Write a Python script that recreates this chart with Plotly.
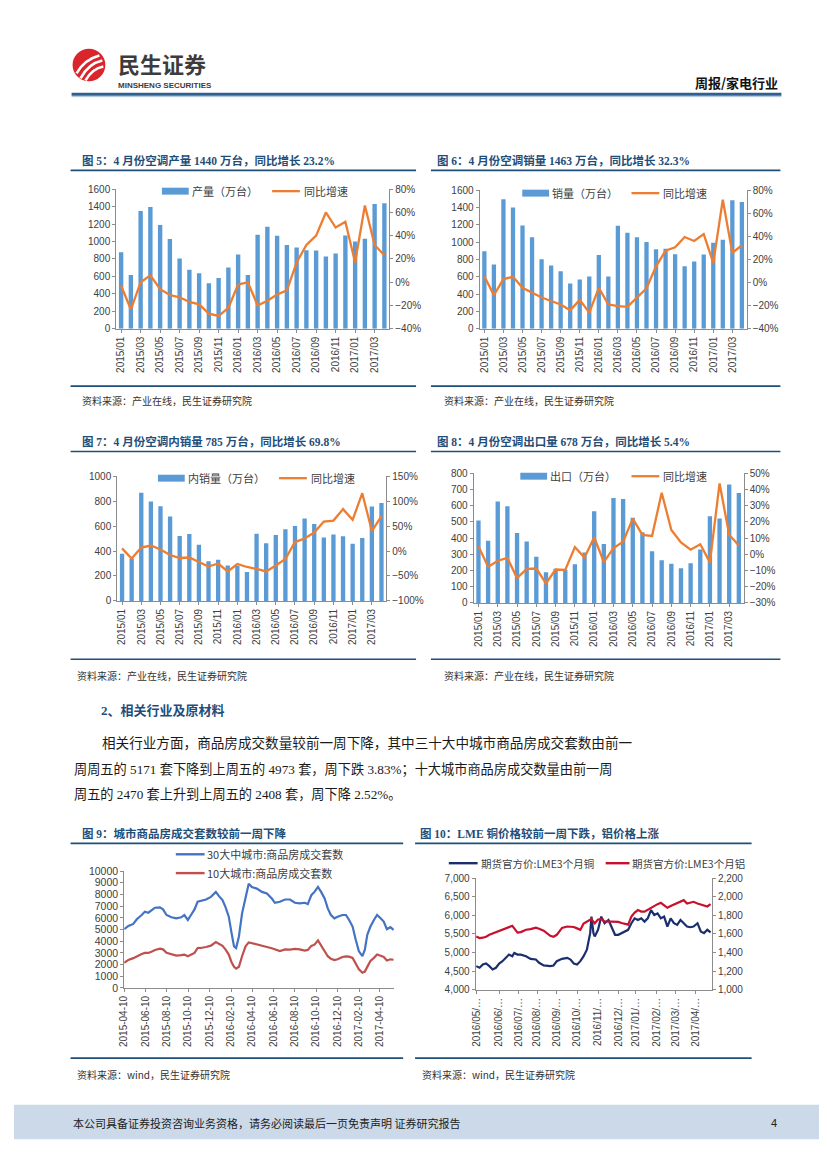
import plotly.graph_objects as go

# ---------------- data ----------------
MONTHS = ["2015/01", "2015/02", "2015/03", "2015/04", "2015/05", "2015/06", "2015/07",
          "2015/08", "2015/09", "2015/10", "2015/11", "2015/12", "2016/01", "2016/02",
          "2016/03", "2016/04", "2016/05", "2016/06", "2016/07", "2016/08", "2016/09",
          "2016/10", "2016/11", "2016/12", "2017/01", "2017/02", "2017/03", "2017/04"]
MONTH_TICKS = ["2015/01", "2015/03", "2015/05", "2015/07", "2015/09", "2015/11", "2016/01",
               "2016/03", "2016/05", "2016/07", "2016/09", "2016/11", "2017/01", "2017/03"]

PROD = [877, 616, 1350, 1396, 1188, 1029, 806, 677, 635, 522, 582, 703, 851, 616,
        1078, 1169, 1067, 961, 930, 900, 896, 828, 862, 1070, 999, 1033, 1430, 1440]
PROD_YOY = [-3, -23.5, 0, 6, -6, -11, -13, -17, -19, -27, -29, -22, -2, 0,
            -20, -16, -10.5, -7, 17, 32, 40, 60, 47, 52, 17, 66, 32, 23.2]

SALES = [894, 741, 1496, 1400, 1193, 1055, 802, 729, 664, 522, 568, 602, 852, 602,
         1189, 1109, 1055, 1001, 917, 925, 859, 721, 775, 856, 994, 1028, 1485, 1463]
SALES_YOY = [5.5, -11, 3, 5, -4.6, -9, -13, -16, -19, -24, -15, -26, -4.6, -19,
             -20.4, -21, -13, -5, 14, 27.6, 30.5, 39.4, 36, 42, 17, 71.7, 25.6, 32.3]

DOMESTIC = [379, 340, 868, 797, 760, 676, 521, 537, 450, 318, 331, 284, 282, 232,
            539, 463, 529, 574, 600, 660, 616, 508, 532, 518, 458, 505, 758, 785]
DOMESTIC_YOY = [5.3, -15, 7, 11, 3, -8, -14, -13, -22, -31, -25, -41, -26, -32,
                -36, -41, -29, -16, 18, 25, 37, 59, 61, 84, 62.5, 116, 40, 69.8]

EXPORT = [509, 383, 625, 596, 432, 379, 285, 189, 210, 204, 238, 311, 566, 364,
          647, 641, 525, 436, 318, 263, 242, 214, 244, 330, 535, 521, 731, 678]
EXPORT_YOY = [5, -7.8, -4, -2.3, -14.7, -9, -8.8, -18, -9.4, -9.6, 4.4, -2, 10.5, -4.8,
              3.8, 7.7, 22, 12, 11.3, 38, 15, 7.3, 2.8, 6.2, -5, 43.7, 12, 5.4]

HOUSE_DATES = ["2015-04-10", "2015-04-22", "2015-05-06", "2015-05-16", "2015-05-30", "2015-06-08",
               "2015-06-18", "2015-06-27", "2015-07-07", "2015-07-21", "2015-07-30", "2015-08-09",
               "2015-08-23", "2015-09-06", "2015-09-20", "2015-09-29", "2015-10-09", "2015-10-18",
               "2015-10-28", "2015-11-06", "2015-11-15", "2015-11-30", "2015-12-14", "2015-12-28",
               "2016-01-06", "2016-01-16", "2016-01-25", "2016-02-03", "2016-02-11", "2016-02-18",
               "2016-02-24", "2016-03-03", "2016-03-12", "2016-03-22", "2016-03-31", "2016-04-09",
               "2016-04-23", "2016-05-08", "2016-05-22", "2016-06-05", "2016-06-14", "2016-06-28",
               "2016-07-13", "2016-07-27", "2016-08-10", "2016-08-24", "2016-09-07", "2016-09-16",
               "2016-09-26", "2016-10-05", "2016-10-15", "2016-10-24", "2016-11-03", "2016-11-12",
               "2016-11-21", "2016-12-01", "2016-12-10", "2016-12-24", "2017-01-03", "2017-01-12",
               "2017-01-22", "2017-01-31", "2017-02-09", "2017-02-19", "2017-02-26", "2017-03-05",
               "2017-03-14", "2017-03-24", "2017-04-02", "2017-04-12", "2017-04-21", "2017-04-30",
               "2017-05-10", "2017-05-19"]
CITY30 = [5028, 5310, 5480, 5876, 6243, 6525, 6440, 6610, 6864, 6893,
          6723, 6243, 6045, 5960, 6045, 6243, 5819, 6243, 6723, 7373,
          7429, 7570, 7796, 8220, 7853, 7514, 6893, 6100, 4689, 3559,
          3418, 4407, 6384, 7796, 8926, 8644, 8503, 8220, 8079, 7655,
          7288, 7373, 7570, 7570, 7288, 7232, 7288, 7175, 7938, 8220,
          8644, 8220, 7655, 6808, 6243, 5960, 6100, 6243, 6243, 5819,
          5254, 4124, 3136, 2712, 3277, 4548, 5254, 5819, 6243, 5960,
          5678, 5028, 5198, 4972]
CITY10 = [2147, 2400, 2550, 2712, 2900, 2994, 2994, 3100, 3250, 3361,
          3300, 3000, 2850, 2768, 2800, 2853, 2712, 2850, 2994, 3418,
          3420, 3503, 3616, 3927, 3750, 3600, 3277, 2853, 2200, 1800,
          1650, 1808, 2712, 3559, 3898, 3820, 3700, 3616, 3500, 3400,
          3277, 3150, 3300, 3277, 3333, 3300, 3192, 3250, 3600, 3701,
          4068, 3616, 3220, 2712, 2500, 2380, 2450, 2650, 2700, 2680,
          2571, 2100, 1600, 1299, 1400, 1800, 2300, 2571, 2853, 2750,
          2650, 2350, 2450, 2408]
HOUSE_TICKS = ["2015-04-10", "2015-06-10", "2015-08-10", "2015-10-10", "2015-12-10", "2016-02-10",
               "2016-04-10", "2016-06-10", "2016-08-10", "2016-10-10", "2016-12-10", "2017-02-10",
               "2017-04-10"]

LME_DATES = ["2016-05-03", "2016-05-08", "2016-05-13", "2016-05-18", "2016-05-23", "2016-05-28",
             "2016-06-02", "2016-06-07", "2016-06-12", "2016-06-17", "2016-06-22", "2016-06-27",
             "2016-06-30", "2016-07-05", "2016-07-10", "2016-07-18", "2016-07-25", "2016-08-02",
             "2016-08-07", "2016-08-14", "2016-08-24", "2016-08-29", "2016-09-03", "2016-09-11",
             "2016-09-19", "2016-09-24", "2016-09-29", "2016-10-04", "2016-10-09", "2016-10-14",
             "2016-10-19", "2016-10-21", "2016-10-24", "2016-10-26", "2016-10-29", "2016-10-31",
             "2016-11-05", "2016-11-10", "2016-11-15", "2016-11-21", "2016-11-26", "2016-12-01",
             "2016-12-06", "2016-12-11", "2016-12-16", "2016-12-21", "2016-12-26", "2016-12-31",
             "2017-01-05", "2017-01-10", "2017-01-15", "2017-01-20", "2017-01-25", "2017-01-30",
             "2017-02-04", "2017-02-09", "2017-02-14", "2017-02-19", "2017-02-24", "2017-03-01",
             "2017-03-06", "2017-03-11", "2017-03-16", "2017-03-21", "2017-03-26", "2017-03-31",
             "2017-04-06", "2017-04-11", "2017-04-16", "2017-04-21", "2017-04-26"]
COPPER = [4637, 4593, 4681, 4708, 4637, 4549, 4593, 4708, 4770, 4858,
          4947, 4903, 4991, 4947, 4947, 4903, 4832, 4814, 4726, 4655,
          4637, 4655, 4770, 4832, 4858, 4814, 4708, 4681, 4770, 4903,
          5080, 5257, 5522, 5965, 5522, 5434, 5611, 5965, 5788, 5876,
          5699, 5478, 5478, 5522, 5566, 5611, 5788, 5920, 5876, 5920,
          5832, 5920, 6142, 6009, 6053, 5920, 5965, 5699, 5920, 5788,
          5743, 5876, 5788, 5699, 5681, 5699, 5788, 5566, 5522, 5611,
          5540]
ALUMINIUM = [1573, 1556, 1560, 1570, 1591, 1605, 1620, 1630, 1644, 1655,
             1670, 1687, 1660, 1615, 1620, 1645, 1652, 1668, 1655, 1635,
             1580, 1570, 1591, 1665, 1680, 1680, 1675, 1660, 1645, 1712,
             1733, 1740, 1745, 1760, 1730, 1715, 1755, 1760, 1735, 1733,
             1733, 1733, 1730, 1718, 1712, 1700, 1786, 1830, 1857, 1840,
             1839, 1860, 1885, 1899, 1920, 1934, 1909, 1881, 1900, 1915,
             1934, 1950, 1963, 1927, 1940, 1945, 1927, 1915, 1899, 1895,
             1920]
LME_TICKS = ["2016-05-03", "2016-06-07", "2016-07-07", "2016-08-04", "2016-09-03", "2016-10-04",
             "2016-11-05", "2016-12-06", "2017-01-02", "2017-02-02", "2017-03-04", "2017-04-03"]
LME_TICKTEXT = ["2016/05/…", "2016/06/…", "2016/07/…", "2016/08/…", "2016/09/…", "2016/10/…",
                "2016/11/…", "2016/12/…", "2017/01/…", "2017/02/…", "2017/03/…", "2017/04/…"]

# ---------------- styles ----------------
W, H = 827, 1169


def px(x):
    return x / W


def py(y):
    return 1 - y / H


CJK = "Noto Sans CJK SC"
SERIF = "Liberation Serif, Noto Sans CJK SC"
SANS = "Liberation Sans, Arial, Noto Sans CJK SC"
BAR = "#5B9BD5"
ORANGE = "#ED7D31"
TITLE_C = "#1F4E79"
AXC = "#8C8C8C"
TICKC = "#404040"
TICKF = dict(family=SANS, size=10, color=TICKC)

fig = go.Figure()
shapes = []
annots = []
layout_axes = {}


def text(x, y, s, size=11, color="#222222", family=CJK, xanchor="left", bold=False):
    annots.append(dict(xref="paper", yref="paper", x=px(x), y=py(y),
                       text=("<b>%s</b>" % s) if bold else s, showarrow=False,
                       xanchor=xanchor, yanchor="middle", borderpad=0,
                       font=dict(size=size, color=color, family=family)))


def hline(x0, x1, y, color, width):
    shapes.append(dict(type="line", xref="paper", yref="paper", x0=px(x0), x1=px(x1),
                       y0=py(y), y1=py(y), line=dict(color=color, width=width)))


def rect(x0, y0, x1, y1, fill):
    shapes.append(dict(type="rect", xref="paper", yref="paper", x0=px(x0), x1=px(x1),
                       y0=py(y1), y1=py(y0), fillcolor=fill, line=dict(width=0)))


def axname(prefix, i):
    return prefix if i == 1 else "%s%d" % (prefix, i)


def base_axis():
    return dict(showgrid=False, zeroline=False, showline=True, linecolor=AXC, linewidth=1,
                ticks="outside", ticklen=3, tickcolor=AXC, tickfont=TICKF)


def bar_chart(n, bars, yoy, xr, yr, lrange, ldtick, rrange, rdtick):
    xi, yl, yrr = n, 2 * n - 1, 2 * n
    fig.add_trace(go.Bar(x=MONTHS, y=bars, marker=dict(color=BAR, line=dict(width=0)),
                         xaxis=axname("x", xi), yaxis=axname("y", yl), showlegend=False))
    fig.add_trace(go.Scatter(x=MONTHS, y=yoy, mode="lines", line=dict(color=ORANGE, width=2.3),
                             xaxis=axname("x", xi), yaxis=axname("y", yrr), showlegend=False))
    xa = base_axis()
    xa.update(domain=[px(xr[0]), px(xr[1])], anchor=axname("y", yl), type="category",
              range=[-0.5, len(MONTHS) - 0.5], tickmode="array", tickvals=MONTH_TICKS,
              tickangle=-90)
    ya = base_axis()
    ya.update(domain=[py(yr[1]), py(yr[0])], anchor=axname("x", xi), range=lrange,
              dtick=ldtick, tickformat="d")
    ya2 = base_axis()
    ya2.update(overlaying=axname("y", yl), side="right", anchor=axname("x", xi),
               range=rrange, dtick=rdtick, ticksuffix="%", tickformat="d")
    layout_axes[axname("xaxis", xi)] = xa
    layout_axes[axname("yaxis", yl)] = ya
    layout_axes[axname("yaxis", yrr)] = ya2


def legend_pair(bx, y, label1, lx, label2):
    rect(bx, y - 3.5, bx + 27, y + 3.5, BAR)
    text(bx + 29, y, label1, size=11, color="#404040")
    hline(lx, lx + 28, y, ORANGE, 2.3)
    text(lx + 31, y, label2, size=11, color="#404040")


# ---------------- header ----------------
shapes.append(dict(type="circle", xref="paper", yref="paper", x0=px(59), x1=px(92),
                   y0=py(68), y1=py(35), fillcolor="#D9252B", line=dict(width=0)))
for (a, b, c) in [((63, 60), (71, 46), (86, 42)), ((67, 65), (75, 50), (89, 47)),
                  ((72, 67), (79, 55), (90, 53))]:
    path = "M %f,%f Q %f,%f %f,%f" % (px(a[0]), py(a[1]), px(b[0]), py(b[1]), px(c[0]), py(c[1]))
    shapes.append(dict(type="path", xref="paper", yref="paper", path=path,
                       line=dict(color="white", width=2.6)))
text(104, 50, "民生证券", size=22, color="#3C3C3C", family=CJK, bold=True)
text(104, 72, "MINSHENG SECURITIES", size=8, color="#3C3C3C",
     family="Liberation Sans Narrow, Liberation Sans, Arial", bold=True)
text(771, 69, "周报/家电行业", size=13, color="#111111", family=CJK, xanchor="right", bold=True)
hline(58, 773, 81, "#2F5F8F", 3)
hline(58, 773, 83.5, "#A9C3DD", 1)

# ---------------- titles / separators ----------------
text(67, 148, "图 5：4 月份空调产量 1440 万台，同比增长 23.2%", size=11.5, color=TITLE_C,
     family=SERIF, bold=True)
text(425, 148, "图 6：4 月份空调销量 1463 万台，同比增长 32.3%", size=11.5, color=TITLE_C,
     family=SERIF, bold=True)
hline(57, 405, 158, TITLE_C, 1.6)
hline(420, 772, 158, TITLE_C, 1.6)
hline(57, 405, 376, TITLE_C, 1.6)
hline(420, 772, 376, TITLE_C, 1.6)
text(67, 391, "资料来源：产业在线，民生证券研究院", size=10, color="#333333")
text(432, 391, "资料来源：产业在线，民生证券研究院", size=10, color="#333333")

text(67, 432, "图 7：4 月份空调内销量 785 万台，同比增长 69.8%", size=11.5, color=TITLE_C,
     family=SERIF, bold=True)
text(425, 432, "图 8：4 月份空调出口量 678 万台，同比增长 5.4%", size=11.5, color=TITLE_C,
     family=SERIF, bold=True)
hline(57, 405, 442, TITLE_C, 1.6)
hline(420, 772, 442, TITLE_C, 1.6)
hline(57, 405, 652, TITLE_C, 1.6)
hline(420, 772, 652, TITLE_C, 1.6)
text(62, 668, "资料来源：产业在线，民生证券研究院", size=10, color="#333333")
text(432, 668, "资料来源：产业在线，民生证券研究院", size=10, color="#333333")

# ---------------- body text ----------------
text(87, 704, "2、相关行业及原材料", size=13, color=TITLE_C, family=SERIF, bold=True)
BODY = "Liberation Serif, Noto Sans CJK SC"
text(88, 737, "相关行业方面，商品房成交数量较前一周下降，其中三十大中城市商品房成交套数由前一",
     size=13.6, color="#1A1A1A", family=BODY)
text(59, 763, "周周五的 5171 套下降到上周五的 4973 套，周下跌 3.83%；十大城市商品房成交数量由前一周",
     size=13.2, color="#1A1A1A", family=BODY)
text(59, 789, "周五的 2470 套上升到上周五的 2408 套，周下降 2.52%。",
     size=13.2, color="#1A1A1A", family=BODY)

text(67, 828, "图 9：城市商品房成交套数较前一周下降", size=11.5, color=TITLE_C,
     family=SERIF, bold=True)
text(408, 828, "图 10：LME 铜价格较前一周下跌，铝价格上涨", size=11.5, color=TITLE_C,
     family=SERIF, bold=True)
hline(57, 392, 838, TITLE_C, 1.6)
hline(404, 743, 838, TITLE_C, 1.6)
hline(57, 392, 1055, TITLE_C, 1.6)
hline(404, 743, 1055, TITLE_C, 1.6)
text(62, 1072, "资料来源：wind，民生证券研究院", size=10, color="#333333")
text(410, 1072, "资料来源：wind，民生证券研究院", size=10, color="#333333")

# ---------------- footer ----------------
rect(0, 1102, 827, 1137, "#CBD9E8")
text(58, 1120, "本公司具备证券投资咨询业务资格，请务必阅读最后一页免责声明 证券研究报告",
     size=11, color="#222222")
text(770, 1120, "4", size=11, color="#222222", family=SANS, xanchor="right")

# ---------------- bar + line charts ----------------
bar_chart(1, PROD, PROD_YOY, (103, 378), (177, 318), [0, 1600], 200, [-40, 80], 20)
legend_pair(149, 179, "产量（万台）", 260, "同比增速")

bar_chart(2, SALES, SALES_YOY, (469, 738), (178, 318), [0, 1600], 200, [-40, 80], 20)
legend_pair(512, 181, "销量（万台）", 622, "同比增速")

bar_chart(3, DOMESTIC, DOMESTIC_YOY, (104, 375), (467, 593), [0, 1000], 200, [-100, 150], 50)
legend_pair(145, 469, "内销量（万台）", 267, "同比增速")

bar_chart(4, EXPORT, EXPORT_YOY, (463, 735), (464, 595), [0, 800], 100, [-30, 50], 10)
legend_pair(510, 467, "出口（万台）", 622, "同比增速")

# ---------------- housing chart ----------------
fig.add_trace(go.Scatter(x=HOUSE_DATES, y=CITY30, mode="lines",
                         line=dict(color="#4472C4", width=2.2), xaxis="x5", yaxis="y9",
                         showlegend=False))
fig.add_trace(go.Scatter(x=HOUSE_DATES, y=CITY10, mode="lines",
                         line=dict(color="#C0504D", width=2.2), xaxis="x5", yaxis="y9",
                         showlegend=False))
xa = base_axis()
xa.update(domain=[px(111), px(383)], anchor="y9", type="date",
          range=["2015-04-10", "2017-05-21"], tickmode="array", tickvals=HOUSE_TICKS,
          ticktext=HOUSE_TICKS, tickangle=-90)
ya = base_axis()
ya.update(domain=[py(984), py(866)], anchor="x5", range=[0, 10000], dtick=1000,
          tickformat="d", tickfont=dict(family=SANS, size=10.5, color=TICKC))
layout_axes["xaxis5"] = xa
layout_axes["yaxis9"] = ya
hline(163, 192, 849, "#4472C4", 2.4)
text(193, 849, "30大中城市:商品房成交套数", size=11, color="#404040")
hline(163, 192, 868, "#C0504D", 2.4)
text(193, 868, "10大城市:商品房成交套数", size=11, color="#404040")

# ---------------- LME chart ----------------
fig.add_trace(go.Scatter(x=LME_DATES, y=COPPER, mode="lines",
                         line=dict(color="#1B2F6E", width=2.2), xaxis="x6", yaxis="y10",
                         showlegend=False))
fig.add_trace(go.Scatter(x=LME_DATES, y=ALUMINIUM, mode="lines",
                         line=dict(color="#C8102E", width=2.2), xaxis="x6", yaxis="y11",
                         showlegend=False))
xa = base_axis()
xa.update(domain=[px(465), px(703)], anchor="y10", type="date",
          range=["2016-05-02", "2017-04-28"], tickmode="array", tickvals=LME_TICKS,
          ticktext=LME_TICKTEXT, tickangle=-90)
ya = base_axis()
ya.update(domain=[py(986), py(873)], anchor="x6", range=[4000, 7000], dtick=500,
          tickformat=",")
ya2 = base_axis()
ya2.update(overlaying="y10", side="right", anchor="x6", range=[1000, 2200], dtick=200,
           tickformat=",")
layout_axes["xaxis6"] = xa
layout_axes["yaxis10"] = ya
layout_axes["yaxis11"] = ya2
hline(438, 467, 858, "#1B2F6E", 2.4)
text(469, 858, "期货官方价:LME3个月铜", size=10.5, color="#404040")
hline(596, 620, 858, "#C8102E", 2.4)
text(622, 858, "期货官方价:LME3个月铝", size=10.5, color="#404040")

fig.update_layout(width=W, height=H, autosize=False, margin=dict(l=0, r=0, t=0, b=0),
                  paper_bgcolor="white", plot_bgcolor="white", bargap=0.55,
                  showlegend=False, shapes=shapes, annotations=annots,
                  font=dict(family=CJK), **layout_axes)

fig.write_html("out.html")
